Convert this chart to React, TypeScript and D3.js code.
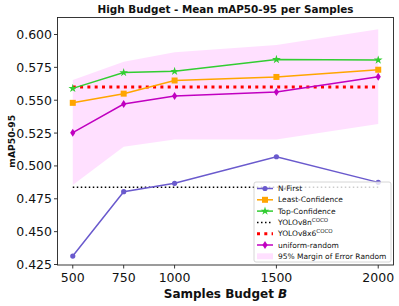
import React from "react";
import * as d3 from "d3";

const samples = [500, 750, 1000, 1500, 2000];
const nFirst = [0.4314, 0.4804, 0.4868, 0.507, 0.4875];
const leastConf = [0.548, 0.555, 0.565, 0.5677, 0.5732];
const topConf = [0.559, 0.571, 0.572, 0.581, 0.5806];
const uniformRandom = [0.5253, 0.5471, 0.5532, 0.5562, 0.5679];
const bandUpper = [0.5654, 0.5793, 0.5865, 0.592, 0.604];
const bandLower = [0.4855, 0.5146, 0.5202, 0.5202, 0.5319];
const yolov8n = 0.4837;
const yolov8x6 = 0.56;
const yTicks = [0.425, 0.45, 0.475, 0.5, 0.525, 0.55, 0.575, 0.6];
const xTicks = [500, 750, 1000, 1500, 2000];

const W = 399, H = 306;
const L = 57.5, R = 393.5, T = 17.5, B = 265;
const FONT = "DejaVu Sans, sans-serif";

function star(cx: number, cy: number, r: number) {
  const pts: string[] = [];
  for (let i = 0; i < 10; i++) {
    const a = -Math.PI / 2 + (i * Math.PI) / 5;
    const rr = i % 2 === 0 ? r : r * 0.38;
    pts.push(`${cx + rr * Math.cos(a)},${cy + rr * Math.sin(a)}`);
  }
  return pts.join(" ");
}

function Marker({ kind, x, y, color }: { kind: string; x: number; y: number; color: string }) {
  if (kind === "o") return <circle cx={x} cy={y} r={2.6} fill={color} />;
  if (kind === "s") return <rect x={x - 3} y={y - 3} width={6} height={6} fill={color} />;
  if (kind === "*") return <polygon points={star(x, y, 4.6)} fill={color} />;
  if (kind === "d")
    return <polygon points={`${x},${y - 4} ${x + 2.6},${y} ${x},${y + 4} ${x - 2.6},${y}`} fill={color} />;
  return null;
}

export default function App() {
  const x = d3.scaleLinear().domain([425, 2075]).range([L, R]);
  const y = d3.scaleLinear().domain([0.425, 0.6]).range([264.5, 34.5]);

  const line = d3
    .line<number>()
    .x((_, i) => x(samples[i]))
    .y((d) => y(d));
  const area = d3
    .area<number>()
    .x((_, i) => x(samples[i]))
    .y0((_, i) => y(bandLower[i]))
    .y1((d) => y(d));

  const series = [
    { name: "N-First", data: nFirst, color: "#6a5acd", marker: "o" },
    { name: "Least-Confidence", data: leastConf, color: "#ffa500", marker: "s" },
    { name: "Top-Confidence", data: topConf, color: "#32cd32", marker: "*" },
    { name: "uniform-random", data: uniformRandom, color: "#c000c0", marker: "d" },
  ];

  const lgX = 254, lgY = 182, lgW = 137, lgH = 80;
  const rowY = (i: number) => lgY + 6.5 + i * 11.3;
  const hx0 = lgX + 3, hx1 = lgX + 19, tx = lgX + 24;

  return (
    <svg width={W} height={H} style={{ position: "absolute", left: 0, top: 0 }} fontFamily={FONT}>
      <rect width={W} height={H} fill="white" />
      <defs>
        <clipPath id="clip">
          <rect x={L} y={T} width={R - L} height={B - T} />
        </clipPath>
      </defs>
      <g clipPath="url(#clip)">
        <path d={area(bandUpper) || ""} fill="#ff00ff" fillOpacity={0.12} />
        <line x1={x(500)} x2={x(2000)} y1={y(yolov8n)} y2={y(yolov8n)} stroke="#000" strokeWidth={1.5} strokeDasharray="1.5,2.5" />
        <line x1={x(500)} x2={x(2000)} y1={y(yolov8x6)} y2={y(yolov8x6)} stroke="#ff0000" strokeWidth={3} strokeDasharray="3,4.3" />
        {series.map((s) => (
          <g key={s.name}>
            <path d={line(s.data) || ""} fill="none" stroke={s.color} strokeWidth={1.5} />
            {s.data.map((v, i) => (
              <Marker key={i} kind={s.marker} x={x(samples[i])} y={y(v)} color={s.color} />
            ))}
          </g>
        ))}
      </g>
      <rect x={L} y={T} width={R - L} height={B - T} fill="none" stroke="#222" strokeWidth={0.9} />
      {yTicks.map((t) => (
        <g key={t}>
          <line x1={L - 3.5} x2={L} y1={y(t)} y2={y(t)} stroke="#222" strokeWidth={0.9} />
          <text x={L - 5.5} y={y(t)} dy="0.36em" textAnchor="end" fontSize={12.5} fill="#111">
            {d3.format(".3f")(t)}
          </text>
        </g>
      ))}
      {xTicks.map((t) => (
        <g key={t}>
          <line x1={x(t)} x2={x(t)} y1={B} y2={B + 3.5} stroke="#222" strokeWidth={0.9} />
          <text x={x(t)} y={B + 17} textAnchor="middle" fontSize={12.5} fill="#111">
            {t}
          </text>
        </g>
      ))}
      <text x={(L + R) / 2} y={13} textAnchor="middle" fontSize={10.4} fontWeight="bold" fill="#111">
        High Budget - Mean mAP50-95 per Samples
      </text>
      <text x={(L + R) / 2} y={298} textAnchor="middle" fontSize={12} fontWeight="bold" fill="#111">
        Samples Budget <tspan fontStyle="italic">B</tspan>
      </text>
      <text transform={`translate(15,${(T + B) / 2}) rotate(-90)`} textAnchor="middle" fontSize={9.2} fontWeight="bold" fill="#111">
        mAP50-95
      </text>
      <g>
        <rect x={lgX} y={lgY} width={lgW} height={lgH} rx={2} fill="white" fillOpacity={0.8} stroke="#cccccc" strokeWidth={0.8} />
        {series.slice(0, 3).map((s, i) => (
          <g key={s.name}>
            <line x1={hx0} x2={hx1} y1={rowY(i)} y2={rowY(i)} stroke={s.color} strokeWidth={1.5} />
            <Marker kind={s.marker} x={(hx0 + hx1) / 2} y={rowY(i)} color={s.color} />
            <text x={tx} y={rowY(i)} dy="0.35em" fontSize={7.5} fill="#111">{s.name}</text>
          </g>
        ))}
        <line x1={hx0} x2={hx1} y1={rowY(3)} y2={rowY(3)} stroke="#000" strokeWidth={1.5} strokeDasharray="1.5,2.5" />
        <text x={tx} y={rowY(3)} dy="0.35em" fontSize={7.5} fill="#111">
          YOLOv8n<tspan fontSize={5.5} dy="-3">COCO</tspan>
        </text>
        <line x1={hx0} x2={hx1} y1={rowY(4)} y2={rowY(4)} stroke="#ff0000" strokeWidth={3} strokeDasharray="3,4.3" />
        <text x={tx} y={rowY(4)} dy="0.35em" fontSize={7.5} fill="#111">
          YOLOv8x6<tspan fontSize={5.5} dy="-3">COCO</tspan>
        </text>
        <line x1={hx0} x2={hx1} y1={rowY(5)} y2={rowY(5)} stroke={series[3].color} strokeWidth={1.5} />
        <Marker kind="d" x={(hx0 + hx1) / 2} y={rowY(5)} color={series[3].color} />
        <text x={tx} y={rowY(5)} dy="0.35em" fontSize={7.5} fill="#111">uniform-random</text>
        <rect x={hx0} y={rowY(6) - 3} width={hx1 - hx0} height={6} fill="#ff00ff" fillOpacity={0.12} />
        <text x={tx} y={rowY(6)} dy="0.35em" fontSize={7.5} fill="#111">95% Margin of Error Random</text>
      </g>
    </svg>
  );
}
